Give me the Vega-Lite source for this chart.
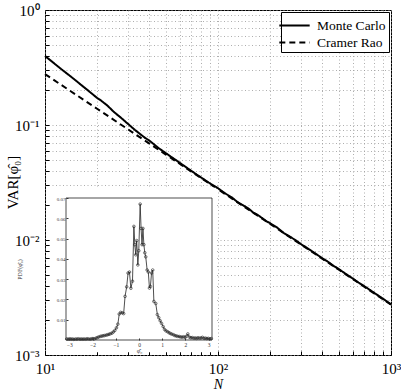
{
  "$schema": "https://vega.github.io/schema/vega-lite/v6.json",
  "width": 346,
  "height": 345,
  "autosize": "none",
  "padding": {"left": 45, "top": 10, "right": 10, "bottom": 35},
  "background": "white",
  "config": {
    "view": {"stroke": "black", "strokeWidth": 1},
    "font": "Liberation Serif"
  },
  "datasets": {
    "main": [
      {"N": 10, "v": 0.398, "series": "Monte Carlo"},
      {"N": 11, "v": 0.355, "series": "Monte Carlo"},
      {"N": 12, "v": 0.319, "series": "Monte Carlo"},
      {"N": 13, "v": 0.290, "series": "Monte Carlo"},
      {"N": 14, "v": 0.266, "series": "Monte Carlo"},
      {"N": 15, "v": 0.245, "series": "Monte Carlo"},
      {"N": 16, "v": 0.226, "series": "Monte Carlo"},
      {"N": 18, "v": 0.196, "series": "Monte Carlo"},
      {"N": 20, "v": 0.172, "series": "Monte Carlo"},
      {"N": 21, "v": 0.164, "series": "Monte Carlo"},
      {"N": 23, "v": 0.147, "series": "Monte Carlo"},
      {"N": 25, "v": 0.130, "series": "Monte Carlo"},
      {"N": 28, "v": 0.113, "series": "Monte Carlo"},
      {"N": 30, "v": 0.103, "series": "Monte Carlo"},
      {"N": 33, "v": 0.091, "series": "Monte Carlo"},
      {"N": 35, "v": 0.0847, "series": "Monte Carlo"},
      {"N": 38, "v": 0.077, "series": "Monte Carlo"},
      {"N": 40, "v": 0.0735, "series": "Monte Carlo"},
      {"N": 45, "v": 0.0635, "series": "Monte Carlo"},
      {"N": 50, "v": 0.0568, "series": "Monte Carlo"},
      {"N": 55, "v": 0.0515, "series": "Monte Carlo"},
      {"N": 60, "v": 0.047, "series": "Monte Carlo"},
      {"N": 65, "v": 0.0432, "series": "Monte Carlo"},
      {"N": 70, "v": 0.04, "series": "Monte Carlo"},
      {"N": 75, "v": 0.0372, "series": "Monte Carlo"},
      {"N": 80, "v": 0.0349, "series": "Monte Carlo"},
      {"N": 90, "v": 0.031, "series": "Monte Carlo"},
      {"N": 100, "v": 0.0282, "series": "Monte Carlo"},
      {"N": 110, "v": 0.0254, "series": "Monte Carlo"},
      {"N": 120, "v": 0.0235, "series": "Monte Carlo"},
      {"N": 130, "v": 0.0213, "series": "Monte Carlo"},
      {"N": 140, "v": 0.02, "series": "Monte Carlo"},
      {"N": 150, "v": 0.0188, "series": "Monte Carlo"},
      {"N": 160, "v": 0.0173, "series": "Monte Carlo"},
      {"N": 170, "v": 0.0165, "series": "Monte Carlo"},
      {"N": 180, "v": 0.0155, "series": "Monte Carlo"},
      {"N": 190, "v": 0.0146, "series": "Monte Carlo"},
      {"N": 200, "v": 0.014, "series": "Monte Carlo"},
      {"N": 220, "v": 0.0128, "series": "Monte Carlo"},
      {"N": 240, "v": 0.0115, "series": "Monte Carlo"},
      {"N": 260, "v": 0.0107, "series": "Monte Carlo"},
      {"N": 280, "v": 0.01, "series": "Monte Carlo"},
      {"N": 300, "v": 0.00925, "series": "Monte Carlo"},
      {"N": 330, "v": 0.00845, "series": "Monte Carlo"},
      {"N": 360, "v": 0.00775, "series": "Monte Carlo"},
      {"N": 400, "v": 0.00695, "series": "Monte Carlo"},
      {"N": 430, "v": 0.0065, "series": "Monte Carlo"},
      {"N": 470, "v": 0.0059, "series": "Monte Carlo"},
      {"N": 500, "v": 0.00558, "series": "Monte Carlo"},
      {"N": 550, "v": 0.00505, "series": "Monte Carlo"},
      {"N": 600, "v": 0.00463, "series": "Monte Carlo"},
      {"N": 650, "v": 0.00426, "series": "Monte Carlo"},
      {"N": 700, "v": 0.00397, "series": "Monte Carlo"},
      {"N": 800, "v": 0.00347, "series": "Monte Carlo"},
      {"N": 900, "v": 0.00308, "series": "Monte Carlo"},
      {"N": 1000, "v": 0.00276, "series": "Monte Carlo"},
      {"N": 10, "v": 0.277, "series": "Cramer Rao"},
      {"N": 20, "v": 0.1385, "series": "Cramer Rao"},
      {"N": 50, "v": 0.0553, "series": "Cramer Rao"},
      {"N": 100, "v": 0.0276, "series": "Cramer Rao"},
      {"N": 200, "v": 0.0138, "series": "Cramer Rao"},
      {"N": 500, "v": 0.00551, "series": "Cramer Rao"},
      {"N": 1000, "v": 0.00274, "series": "Cramer Rao"}
    ],
    "pdf": [
      {"phi": -3.11, "p": 0.0005}, {"phi": -3.05, "p": 0.0004}, {"phi": -2.98, "p": 0.0006},
      {"phi": -2.92, "p": 0.0004}, {"phi": -2.86, "p": 0.0005}, {"phi": -2.80, "p": 0.0003},
      {"phi": -2.73, "p": 0.0005}, {"phi": -2.67, "p": 0.0004}, {"phi": -2.61, "p": 0.0006},
      {"phi": -2.54, "p": 0.0004}, {"phi": -2.48, "p": 0.0005}, {"phi": -2.42, "p": 0.0004},
      {"phi": -2.36, "p": 0.0005}, {"phi": -2.29, "p": 0.0004}, {"phi": -2.23, "p": 0.0006},
      {"phi": -2.17, "p": 0.0005}, {"phi": -2.10, "p": 0.0004}, {"phi": -2.04, "p": 0.0006},
      {"phi": -1.98, "p": 0.0007}, {"phi": -1.92, "p": 0.0006}, {"phi": -1.85, "p": 0.0009},
      {"phi": -1.79, "p": 0.0012}, {"phi": -1.73, "p": 0.0015}, {"phi": -1.66, "p": 0.0018},
      {"phi": -1.60, "p": 0.0019}, {"phi": -1.54, "p": 0.0021}, {"phi": -1.48, "p": 0.0022},
      {"phi": -1.41, "p": 0.0024}, {"phi": -1.35, "p": 0.0026}, {"phi": -1.29, "p": 0.0028},
      {"phi": -1.23, "p": 0.0031}, {"phi": -1.16, "p": 0.0034}, {"phi": -1.10, "p": 0.004},
      {"phi": -1.04, "p": 0.0047}, {"phi": -0.97, "p": 0.006}, {"phi": -0.91, "p": 0.0078},
      {"phi": -0.85, "p": 0.0128}, {"phi": -0.79, "p": 0.0136}, {"phi": -0.72, "p": 0.0134},
      {"phi": -0.66, "p": 0.013}, {"phi": -0.60, "p": 0.0215}, {"phi": -0.53, "p": 0.0262},
      {"phi": -0.47, "p": 0.033}, {"phi": -0.41, "p": 0.0335}, {"phi": -0.35, "p": 0.0255},
      {"phi": -0.28, "p": 0.029}, {"phi": -0.22, "p": 0.056}, {"phi": -0.18, "p": 0.047},
      {"phi": -0.14, "p": 0.042}, {"phi": -0.10, "p": 0.049}, {"phi": -0.05, "p": 0.037},
      {"phi": -0.01, "p": 0.044}, {"phi": 0.05, "p": 0.067}, {"phi": 0.09, "p": 0.055},
      {"phi": 0.13, "p": 0.047}, {"phi": 0.17, "p": 0.055}, {"phi": 0.21, "p": 0.047},
      {"phi": 0.25, "p": 0.043}, {"phi": 0.29, "p": 0.041}, {"phi": 0.35, "p": 0.0345},
      {"phi": 0.40, "p": 0.0335}, {"phi": 0.45, "p": 0.0256}, {"phi": 0.49, "p": 0.0264},
      {"phi": 0.54, "p": 0.033}, {"phi": 0.59, "p": 0.0345}, {"phi": 0.64, "p": 0.019},
      {"phi": 0.72, "p": 0.018}, {"phi": 0.79, "p": 0.0125}, {"phi": 0.85, "p": 0.011},
      {"phi": 0.91, "p": 0.0095}, {"phi": 0.97, "p": 0.0082}, {"phi": 1.04, "p": 0.0066},
      {"phi": 1.10, "p": 0.0052}, {"phi": 1.16, "p": 0.0045}, {"phi": 1.23, "p": 0.0041},
      {"phi": 1.29, "p": 0.0036}, {"phi": 1.35, "p": 0.0032}, {"phi": 1.41, "p": 0.0029},
      {"phi": 1.48, "p": 0.0026}, {"phi": 1.54, "p": 0.0022}, {"phi": 1.60, "p": 0.002},
      {"phi": 1.66, "p": 0.0018}, {"phi": 1.73, "p": 0.0017}, {"phi": 1.79, "p": 0.0015},
      {"phi": 1.85, "p": 0.0014}, {"phi": 1.92, "p": 0.0016}, {"phi": 1.98, "p": 0.0013},
      {"phi": 2.04, "p": 0.0018}, {"phi": 2.10, "p": 0.003}, {"phi": 2.17, "p": 0.0014},
      {"phi": 2.23, "p": 0.0011}, {"phi": 2.29, "p": 0.0012}, {"phi": 2.36, "p": 0.0009},
      {"phi": 2.42, "p": 0.001}, {"phi": 2.48, "p": 0.0008}, {"phi": 2.54, "p": 0.0011},
      {"phi": 2.61, "p": 0.0009}, {"phi": 2.67, "p": 0.001}, {"phi": 2.73, "p": 0.0013},
      {"phi": 2.80, "p": 0.0008}, {"phi": 2.86, "p": 0.0009}, {"phi": 2.92, "p": 0.0007},
      {"phi": 2.98, "p": 0.0008}, {"phi": 3.05, "p": 0.0006}, {"phi": 3.11, "p": 0.0007}
    ],
    "bg": [{"x0": -3.83, "x1": 3.31, "y0": -0.006, "y1": 0.075}],
    "frame": [{"x0": -3.14, "x1": 3.14, "y0": 0, "y1": 0.07}]
  },
  "layer": [
    {
      "data": {"name": "main"},
      "mark": {"type": "line", "color": "black", "strokeWidth": 2},
      "encoding": {
        "x": {
          "field": "N", "type": "quantitative",
          "scale": {"type": "log", "domain": [10, 1000], "nice": false},
          "axis": {
            "title": "N", "titleFont": "Liberation Serif", "titleFontSize": 14, "titleFontStyle": "italic",
            "titleFontWeight": "normal", "titleColor": "black", "titleX": 173, "titleY": 22,
            "values": [10, 20, 30, 40, 50, 60, 70, 80, 90, 100, 200, 300, 400, 500, 600, 700, 800, 900, 1000],
            "labelExpr": "datum.value == 10 ? '10¹' : datum.value == 100 ? '10²' : datum.value == 1000 ? '10³' : ''",
            "labelFont": "Liberation Serif", "labelFontSize": 15, "labelColor": "black",
            "labelOverlap": false, "labelFlush": false, "labelPadding": 10,
            "grid": true, "gridDash": [1, 2.5], "gridColor": "#999999", "gridWidth": 0.8,
            "domain": false, "tickSize": -4, "tickColor": "black"
          }
        },
        "y": {
          "field": "v", "type": "quantitative",
          "scale": {"type": "log", "domain": [0.001, 1], "nice": false},
          "axis": {
            "title": "VAR[φ̂₀]", "titleFont": "Liberation Serif", "titleFontSize": 15,
            "titleFontWeight": "normal", "titleColor": "black", "titleX": -25, "titleY": 172,
            "values": [0.001, 0.002, 0.003, 0.004, 0.005, 0.006, 0.007, 0.008, 0.009, 0.01, 0.02, 0.03, 0.04, 0.05, 0.06, 0.07, 0.08, 0.09, 0.1, 0.2, 0.3, 0.4, 0.5, 0.6, 0.7, 0.8, 0.9, 1],
            "labelExpr": "datum.value == 1 ? '10⁰' : datum.value == 0.1 ? '10⁻¹' : datum.value == 0.01 ? '10⁻²' : datum.value == 0.001 ? '10⁻³' : ''",
            "labelFont": "Liberation Serif", "labelFontSize": 15, "labelColor": "black",
            "labelOverlap": false, "labelFlush": false, "labelPadding": 10,
            "grid": true, "gridDash": [1, 2.5], "gridColor": "#999999", "gridWidth": 0.8,
            "domain": false, "tickSize": -4, "tickColor": "black"
          }
        },
        "strokeDash": {
          "field": "series", "type": "nominal",
          "scale": {"domain": ["Monte Carlo", "Cramer Rao"], "range": [[1, 0], [6, 4]]},
          "legend": {
            "title": null, "orient": "top-right", "offset": 2,
            "symbolType": "M-1.6,0H1.6", "symbolSize": 360, "symbolStrokeWidth": 2,
            "symbolStrokeColor": "black", "symbolFillColor": "transparent",
            "labelFont": "Liberation Serif", "labelFontSize": 13.5, "labelColor": "black", "labelOffset": 12,
            "padding": 3, "rowPadding": 0,
            "strokeColor": "black", "fillColor": "white"
          }
        }
      }
    },
    {
      "data": {"name": "bg"},
      "mark": {"type": "rect", "fill": "white", "stroke": null},
      "encoding": {
        "x": {"field": "x0", "type": "quantitative", "scale": {"domain": [-3.14, 3.14], "range": [21, 167], "nice": false, "zero": false}, "axis": null},
        "x2": {"field": "x1"},
        "y": {"field": "y0", "type": "quantitative", "scale": {"domain": [0, 0.07], "range": [330, 188], "nice": false, "zero": false}, "axis": null},
        "y2": {"field": "y1"}
      }
    },
    {
      "data": {"name": "frame"},
      "mark": {"type": "rect", "fill": null, "stroke": "black", "strokeWidth": 0.7},
      "encoding": {
        "x": {"field": "x0", "type": "quantitative", "scale": {"domain": [-3.14, 3.14], "range": [21, 167], "nice": false, "zero": false}, "axis": null},
        "x2": {"field": "x1"},
        "y": {"field": "y0", "type": "quantitative", "scale": {"domain": [0, 0.07], "range": [330, 188], "nice": false, "zero": false}, "axis": null},
        "y2": {"field": "y1"}
      }
    },
    {
      "data": {"name": "pdf"},
      "mark": {"type": "line", "color": "#222222", "strokeWidth": 0.8,
               "point": {"shape": "circle", "filled": false, "size": 7, "stroke": "#222222", "strokeWidth": 0.6}},
      "encoding": {
        "x": {
          "field": "phi", "type": "quantitative",
          "scale": {"domain": [-3.14, 3.14], "range": [21, 167], "nice": false, "zero": false},
          "axis": {
            "orient": "bottom", "offset": -15, "zindex": 2,
            "values": [-3, -2, -1, 0, 1, 2, 3], "format": "d",
            "labelFont": "Liberation Serif", "labelFontSize": 5.5, "labelColor": "#333333",
            "labelPadding": 4, "labelFlush": false,
            "tickSize": -2, "tickColor": "#333333", "domain": false, "grid": false,
            "title": "φ̂₀", "titleFont": "Liberation Serif", "titleFontSize": 6, "titleFontWeight": "normal",
            "titleColor": "#333333", "titlePadding": 0
          }
        },
        "y": {
          "field": "p", "type": "quantitative",
          "scale": {"domain": [0, 0.07], "range": [330, 188], "nice": false, "zero": false},
          "axis": {
            "orient": "left", "offset": -21, "zindex": 2,
            "values": [0.01, 0.02, 0.03, 0.04, 0.05, 0.06, 0.07], "format": ".2f",
            "labelFont": "Liberation Serif", "labelFontSize": 5, "labelColor": "#333333",
            "labelPadding": 3, "labelFlush": false,
            "tickSize": -2, "tickColor": "#333333", "domain": false, "grid": false,
            "title": "PDF(φ̂₀)", "titleFont": "Liberation Serif", "titleFontSize": 6, "titleFontWeight": "normal",
            "titleColor": "#333333", "titleX": -44, "titleY": 259
          }
        }
      }
    }
  ],
  "resolve": {"scale": {"x": "independent", "y": "independent", "strokeDash": "independent"}, "axis": {"x": "independent", "y": "independent"}}
}
